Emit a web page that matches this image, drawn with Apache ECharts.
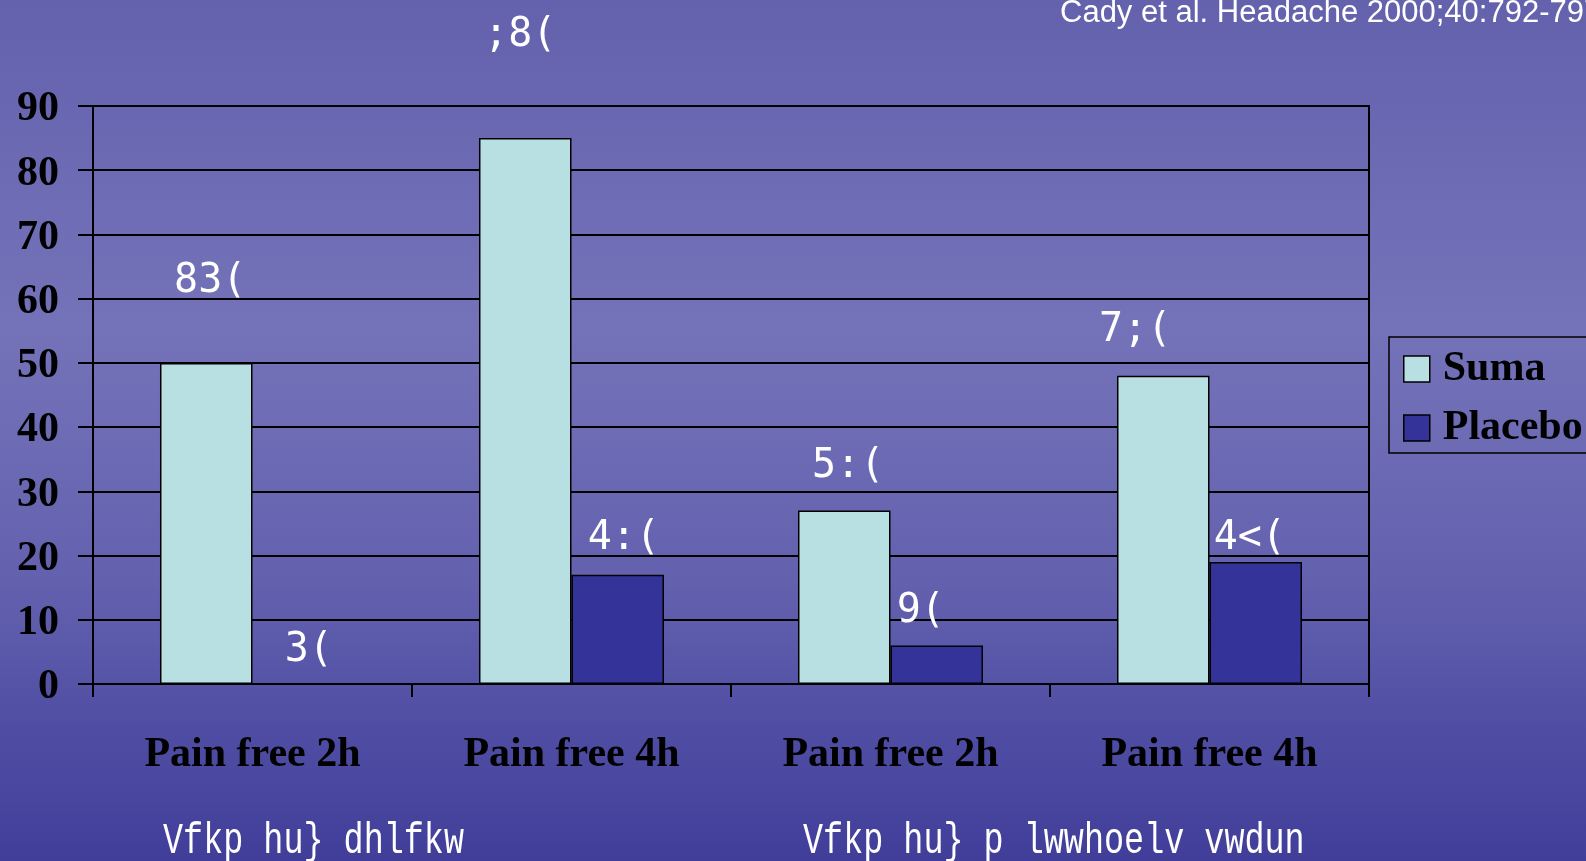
<!DOCTYPE html>
<html>
<head>
<meta charset="utf-8">
<title>Pain free 2h / 4h</title>
<script src="https://cdn.jsdelivr.net/npm/echarts@6/dist/echarts.min.js"></script>
<style>
  html, body { margin: 0; padding: 0; }
  #chart { width: 1586px; height: 861px; }
</style>
</head>
<body>
<div id="chart"></div>
<script>
// Response rates (%) per endpoint, two headache groups
const categories = ['Pain free 2h', 'Pain free 4h', 'Pain free 2h', 'Pain free 4h'];
const sumaValues = [50, 85, 27, 48];
const placeboValues = [0, 17, 6, 19];
const yTicks = { min: 0, max: 90, step: 10 };
const groupCaptions = ['Vfkp hu} dhlfkw', 'Vfkp hu} p lwwhoelv vwdun'];
const citation = 'Cady et al. Headache 2000;40:792-797';

// Hand-placed nudges for the value labels, relative to each bar's top centre
const sumaLabelShift = [[4, -81], [-5, -103], [4, -44], [-28, -45]];
const placeboLabelShift = [[10, -33], [6, -36], [-16, -34], [-6, -23]];

// Value labels use the slide's symbol font, which sits three code points up
function shiftedGlyphs(text) {
  return Array.from(text).map(ch => String.fromCharCode(ch.charCodeAt(0) + 3)).join('');
}

const serifBold = { fontFamily: 'Liberation Serif', fontWeight: 'bold', fontSize: 42, color: '#000' };

function barSeries(name, values, shifts, color) {
  return {
    name: name,
    type: 'bar',
    barGap: '0%',
    barCategoryGap: '42%',
    itemStyle: { color: color, borderColor: '#000', borderWidth: 1.5 },
    data: values.map((v, i) => ({
      value: v,
      label: { offset: shifts[i] }
    })),
    label: {
      show: true,
      position: ['50%', 0],
      align: 'center',
      verticalAlign: 'middle',
      fontFamily: 'DejaVu Sans Mono',
      fontSize: 40,
      color: '#ffffff',
      formatter: p => shiftedGlyphs(p.value + '%')
    }
  };
}

const chart = echarts.init(document.getElementById('chart'), null, { renderer: 'canvas' });

chart.setOption({
  animation: false,
  backgroundColor: {
    type: 'linear', x: 0, y: 0, x2: 0, y2: 1,
    colorStops: [
      { offset: 0, color: '#6461ad' },
      { offset: 0.38, color: '#7473b9' },
      { offset: 0.68, color: '#6361ae' },
      { offset: 0.85, color: '#4f4da3' },
      { offset: 1, color: '#403e99' }
    ]
  },
  grid: {
    left: 93, right: 217, top: 106, bottom: 177,
    show: true, borderColor: '#000', borderWidth: 2, backgroundColor: 'transparent'
  },
  legend: {
    orient: 'vertical',
    left: 1389,
    top: 337,
    padding: [11, 40, 4, 14],
    itemGap: 17,
    itemWidth: 26,
    itemHeight: 26,
    icon: 'rect',
    borderColor: '#000',
    borderWidth: 1.5,
    itemStyle: { borderColor: '#000', borderWidth: 1.5 },
    textStyle: Object.assign({ lineHeight: 42, padding: [0, 0, 0, 8] }, serifBold),
    data: ['Suma', 'Placebo']
  },
  xAxis: {
    type: 'category',
    data: categories,
    axisLine: { show: true, lineStyle: { color: '#000', width: 2 } },
    axisTick: { show: true, length: 13, alignWithLabel: false, lineStyle: { color: '#000', width: 2 } },
    axisLabel: Object.assign({ margin: 50, lineHeight: 42 }, serifBold)
  },
  yAxis: {
    type: 'value',
    min: yTicks.min,
    max: yTicks.max,
    interval: yTicks.step,
    axisLine: { show: true, lineStyle: { color: '#000', width: 2 } },
    axisTick: { show: true, length: 15, lineStyle: { color: '#000', width: 2 } },
    splitLine: { show: true, lineStyle: { color: '#000', width: 2 } },
    // a short top-aligned line box drops each number a few pixels below its tick
    axisLabel: Object.assign({ margin: 34, verticalAlign: 'top', lineHeight: 7 }, serifBold)
  },
  series: [
    barSeries('Suma', sumaValues, sumaLabelShift, '#b8dfe2'),
    barSeries('Placebo', placeboValues, placeboLabelShift, '#343399')
  ],
  graphic: [
    {
      type: 'text', x: 1060, y: 13,
      style: {
        text: citation, fill: '#ffffff',
        font: '31px "Liberation Sans"', align: 'left', verticalAlign: 'middle'
      }
    },
    {
      type: 'text', x: 163, y: 841, scaleX: 0.76,
      style: {
        text: groupCaptions[0], fill: '#ffffff',
        font: '44px "Liberation Mono"', align: 'left', verticalAlign: 'middle'
      }
    },
    {
      type: 'text', x: 803, y: 841, scaleX: 0.76,
      style: {
        text: groupCaptions[1], fill: '#ffffff',
        font: '44px "Liberation Mono"', align: 'left', verticalAlign: 'middle'
      }
    }
  ]
});
</script>
</body>
</html>
